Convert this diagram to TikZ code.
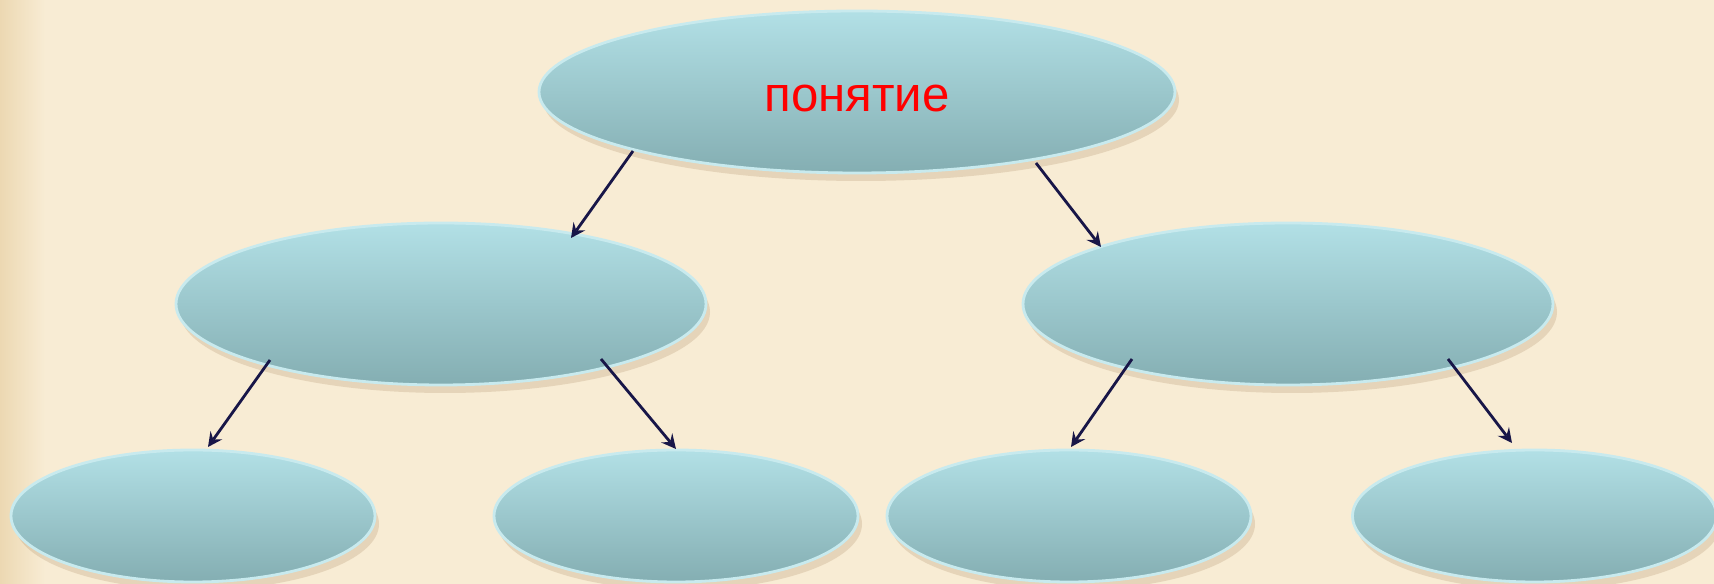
\documentclass[tikz,border=0pt]{standalone}
\usepackage{fontspec}
\setmainfont{Liberation Sans}
\usetikzlibrary{shapes.geometric,shadows}
\definecolor{paper}{RGB}{248,236,212}
\definecolor{paperEdge}{RGB}{236,216,178}
\definecolor{capTop}{RGB}{178,224,230}
\definecolor{capBot}{RGB}{132,174,178}
\definecolor{capRim}{RGB}{200,234,238}
\definecolor{linkInk}{RGB}{24,22,72}
\def\rowTop{-0.92}
\def\rowMid{-3.04}
\def\rowLow{-5.16}
\tikzset{
  bubble/.style={ellipse, draw=capRim, line width=0.8pt, inner sep=0pt,
    top color=capTop, bottom color=capBot,
    drop shadow={shadow xshift=0.4mm, shadow yshift=-0.8mm, opacity=0.16, fill=brown!70!black}},
  bigbubble/.style={bubble, minimum width=6.36cm, minimum height=1.62cm},
  midbubble/.style={bubble, minimum width=5.3cm, minimum height=1.62cm},
  lowbubble/.style={bubble, minimum width=3.64cm, minimum height=1.32cm},
  link/.style={->, >=stealth, linkInk, line width=0.8pt}
}

\begin{document}
\begin{tikzpicture}
\fill [paper] (0,0) rectangle (17.14,-5.84);
\shade [left color=paperEdge, right color=paper] (0,0) rectangle (0.45,-5.84);
\useasboundingbox (0,0) rectangle (17.14,-5.84);
% levels
\node [bigbubble] (top) at (8.57,\rowTop) {};
\node [midbubble] (ml) at (4.41,\rowMid) {};
\node [midbubble] (mr) at (12.88,\rowMid) {};
\node [lowbubble] (bl1) at (1.93,\rowLow) {};
\node [lowbubble] (bl2) at (6.76,\rowLow) {};
\node [lowbubble] (bl3) at (10.69,\rowLow) {};
\node [lowbubble] (bl4) at (15.345,\rowLow) {};
\node [red, font=\fontsize{14}{16}\selectfont] (word) at (8.57,-0.99) {понятие};
% links
\draw [link] ([shift={(-2.24,-0.59)}]top.center) -- ([shift={(1.30,0.66)}]ml.center);
\draw [link] ([shift={(1.79,-0.71)}]top.center) -- ([shift={(-1.87,0.57)}]mr.center);
\draw [link] ([shift={(-1.71,-0.56)}]ml.center) -- ([shift={(0.15,0.69)}]bl1.center);
\draw [link] ([shift={(1.60,-0.55)}]ml.center) -- ([shift={(0,0.67)}]bl2.center);
\draw [link] ([shift={(-1.56,-0.55)}]mr.center) -- ([shift={(0.02,0.69)}]bl3.center);
\draw [link] ([shift={(1.60,-0.55)}]mr.center) -- ([shift={(-0.225,0.73)}]bl4.center);
\end{tikzpicture}
\end{document}
